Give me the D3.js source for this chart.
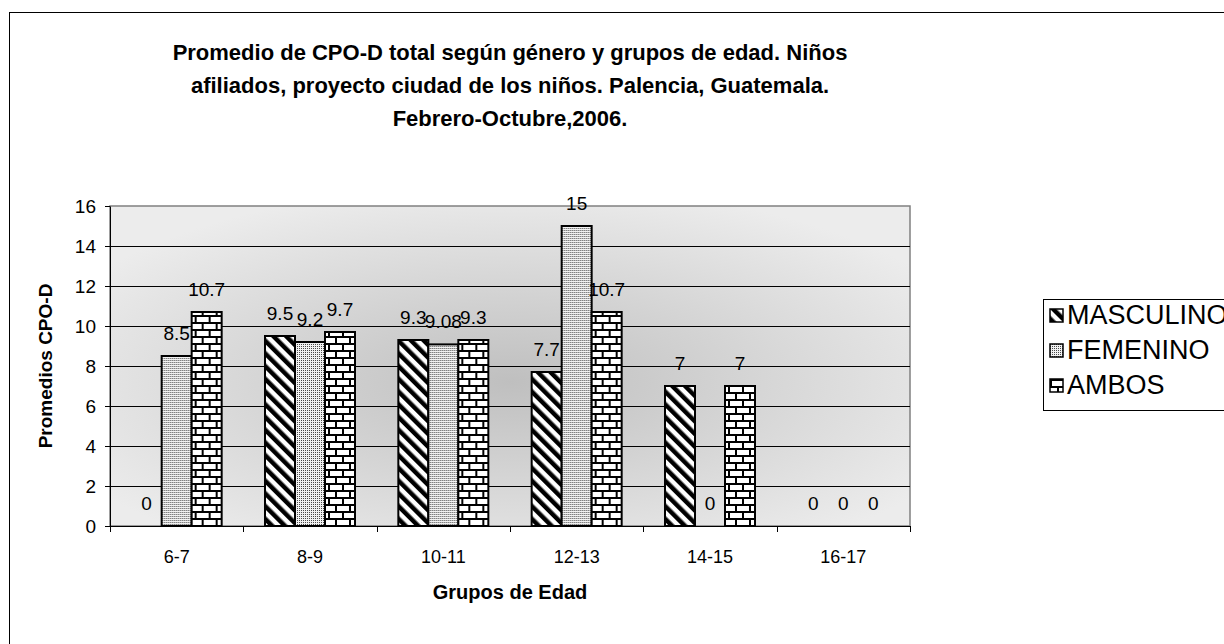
<!DOCTYPE html>
<html>
<head>
<meta charset="utf-8">
<script src="https://cdn.jsdelivr.net/npm/d3@7"></script>
<style>
  body { margin: 0; background: #fff; }
  svg { display: block; font-family: Arial, "Liberation Sans", sans-serif; }
</style>
</head>
<body>
<svg id="chart"></svg>
<script>
// data
var grupos = ["6-7", "8-9", "10-11", "12-13", "14-15", "16-17"];
var series = ["MASCULINO", "FEMENINO", "AMBOS"];
var masculino = [0, 9.5, 9.3, 7.7, 7, 0];
var femenino = [8.5, 9.2, 9.08, 15, 0, 0];
var ambos = [10.7, 9.7, 9.3, 10.7, 7, 0];
var yTicks = [0, 2, 4, 6, 8, 10, 12, 14, 16];
var titleLines = [
  "Promedio de CPO-D total según género y grupos de edad. Niños",
  "afiliados, proyecto ciudad de los niños. Palencia, Guatemala.",
  "Febrero-Octubre,2006."
];

var values = [masculino, femenino, ambos];
var rows = grupos.map(function(g, i) {
  return { grupo: g, vals: series.map(function(s, j) { return { serie: s, v: values[j][i] }; }) };
});

var svgWidth = 1224, svgHeight = 644;
var svg = d3.select("#chart")
  .attr("width", svgWidth)
  .attr("height", svgHeight);

var defs = svg.append("defs");

// plot background: light edges, darker middle
var grad = defs.append("radialGradient")
  .attr("id", "bg")
  .attr("cx", "50%").attr("cy", "55%").attr("r", "62%");
grad.append("stop").attr("offset", "0%").attr("stop-color", "#bfbfbf");
grad.append("stop").attr("offset", "100%").attr("stop-color", "#ececec");

// diagonal stripes for MASCULINO
var diag = defs.append("pattern")
  .attr("id", "pat-masc")
  .attr("patternUnits", "userSpaceOnUse")
  .attr("width", 9).attr("height", 9)
  .attr("patternTransform", "rotate(-45)");
diag.append("rect").attr("width", 9).attr("height", 9).attr("fill", "#fff");
diag.append("rect").attr("width", 4.5).attr("height", 9).attr("fill", "#000");

// fine dots for FEMENINO
var dots = defs.append("pattern")
  .attr("id", "pat-fem")
  .attr("patternUnits", "userSpaceOnUse")
  .attr("width", 2).attr("height", 2);
dots.append("rect").attr("width", 2).attr("height", 2).attr("fill", "#f2f2f2");
dots.append("rect").attr("width", 1).attr("height", 1).attr("fill", "#4a4a4a");

// bricks for AMBOS
var brick = defs.append("pattern")
  .attr("id", "pat-amb")
  .attr("patternUnits", "userSpaceOnUse")
  .attr("width", 14).attr("height", 14);
brick.append("rect").attr("width", 14).attr("height", 14).attr("fill", "#fff");
brick.append("rect").attr("y", 0).attr("width", 14).attr("height", 2).attr("fill", "#000");
brick.append("rect").attr("y", 7).attr("width", 14).attr("height", 2).attr("fill", "#000");
brick.append("rect").attr("x", 0).attr("y", 0).attr("width", 2).attr("height", 7).attr("fill", "#000");
brick.append("rect").attr("x", 7).attr("y", 7).attr("width", 2).attr("height", 7).attr("fill", "#000");

var fills = { MASCULINO: "url(#pat-masc)", FEMENINO: "url(#pat-fem)", AMBOS: "url(#pat-amb)" };

// outer frame, runs off the right and bottom edges
svg.append("rect")
  .attr("x", 9.5).attr("y", 12.5)
  .attr("width", 1240).attr("height", 660)
  .attr("fill", "#fff")
  .attr("stroke", "#000");

// title
svg.append("g").selectAll("text")
  .data(titleLines)
  .join("text")
  .attr("x", 510)
  .attr("y", function(d, i) { return 60 + i * 33; })
  .attr("text-anchor", "middle")
  .attr("font-size", 22)
  .attr("font-weight", "bold")
  .text(function(d) { return d; });

var plotLeft = 110, plotRight = 910, plotTop = 206, plotBottom = 526;

var x0 = d3.scaleBand()
  .domain(grupos)
  .range([plotLeft, plotRight])
  .paddingInner(0.325)
  .paddingOuter(0.1625);

var x1 = d3.scaleBand()
  .domain(series)
  .range([0, x0.bandwidth()]);

var y = d3.scaleLinear()
  .domain([0, 16])
  .range([plotBottom, plotTop]);

// plot area
svg.append("rect")
  .attr("x", plotLeft).attr("y", plotTop)
  .attr("width", plotRight - plotLeft).attr("height", plotBottom - plotTop)
  .attr("fill", "url(#bg)")
  .attr("stroke", "#808080")
  .attr("stroke-width", 1.5);

// gridlines
svg.append("g").selectAll("line")
  .data(yTicks.filter(function(t) { return t > 0 && t < 16; }))
  .join("line")
  .attr("x1", plotLeft).attr("x2", plotRight)
  .attr("y1", function(d) { return Math.round(y(d)) + 0.5; })
  .attr("y2", function(d) { return Math.round(y(d)) + 0.5; })
  .attr("stroke", "#000")
  .attr("stroke-width", 1);

// y axis
var yAxis = svg.append("g")
  .attr("transform", "translate(" + plotLeft + ",0)")
  .call(d3.axisLeft(y).tickValues(yTicks).tickSize(5).tickSizeOuter(0).tickFormat(d3.format("d")));
yAxis.attr("font-family", null).attr("font-size", null);
yAxis.selectAll("text").attr("font-size", 19).attr("fill", "#000").attr("x", -14);
yAxis.selectAll("path, line").attr("stroke", "#000");

// x axis: ticks on the category boundaries
var gap = x0.step() - x0.bandwidth();
var bounds = grupos.map(function(g) { return x0(g) - gap / 2; });
bounds.push(x0(grupos[grupos.length - 1]) + x0.bandwidth() + gap / 2);

svg.append("line")
  .attr("x1", plotLeft).attr("x2", plotRight)
  .attr("y1", plotBottom + 0.5).attr("y2", plotBottom + 0.5)
  .attr("stroke", "#000");
svg.append("g").selectAll("line")
  .data(bounds)
  .join("line")
  .attr("x1", function(d) { return Math.round(d) + 0.5; })
  .attr("x2", function(d) { return Math.round(d) + 0.5; })
  .attr("y1", plotBottom).attr("y2", plotBottom + 6)
  .attr("stroke", "#000");

svg.append("g").selectAll("text")
  .data(grupos)
  .join("text")
  .attr("x", function(d) { return x0(d) + x0.bandwidth() / 2; })
  .attr("y", 563)
  .attr("text-anchor", "middle")
  .attr("font-size", 18)
  .text(function(d) { return d; });

// bars
var groups = svg.append("g").selectAll("g")
  .data(rows)
  .join("g")
  .attr("transform", function(d) { return "translate(" + x0(d.grupo) + ",0)"; });

groups.selectAll("rect")
  .data(function(d) { return d.vals.filter(function(v) { return v.v > 0; }); })
  .join("rect")
  .attr("x", function(d) { return x1(d.serie); })
  .attr("y", function(d) { return y(d.v); })
  .attr("width", x1.bandwidth())
  .attr("height", function(d) { return y(0) - y(d.v); })
  .attr("fill", function(d) { return fills[d.serie]; })
  .attr("stroke", "#000")
  .attr("stroke-width", 2);

groups.selectAll("text")
  .data(function(d) { return d.vals; })
  .join("text")
  .attr("x", function(d) { return x1(d.serie) + x1.bandwidth() / 2; })
  .attr("y", function(d) { return y(d.v) - 16; })
  .attr("text-anchor", "middle")
  .attr("font-size", 19)
  .text(function(d) { return d.v; });

// axis titles
svg.append("text")
  .attr("transform", "translate(52,366) rotate(-90)")
  .attr("text-anchor", "middle")
  .attr("font-size", 19)
  .attr("font-weight", "bold")
  .text("Promedios CPO-D");

svg.append("text")
  .attr("x", 510).attr("y", 599)
  .attr("text-anchor", "middle")
  .attr("font-size", 20)
  .attr("font-weight", "bold")
  .text("Grupos de Edad");

// legend, cut by the right edge as in the original
var legend = svg.append("g");
legend.append("rect")
  .attr("x", 1043.5).attr("y", 299.5)
  .attr("width", 220).attr("height", 111)
  .attr("fill", "#fff")
  .attr("stroke", "#000");

var item = legend.selectAll("g")
  .data(series)
  .join("g")
  .attr("transform", function(d, i) { return "translate(1050," + (309 + i * 35) + ")"; });
item.append("rect")
  .attr("width", 13).attr("height", 13)
  .attr("fill", function(d) { return fills[d]; })
  .attr("stroke", "#000")
  .attr("stroke-width", 1.5);
item.append("text")
  .attr("x", 17).attr("y", 15)
  .attr("font-size", 27)
  .text(function(d) { return d; });
</script>
</body>
</html>
